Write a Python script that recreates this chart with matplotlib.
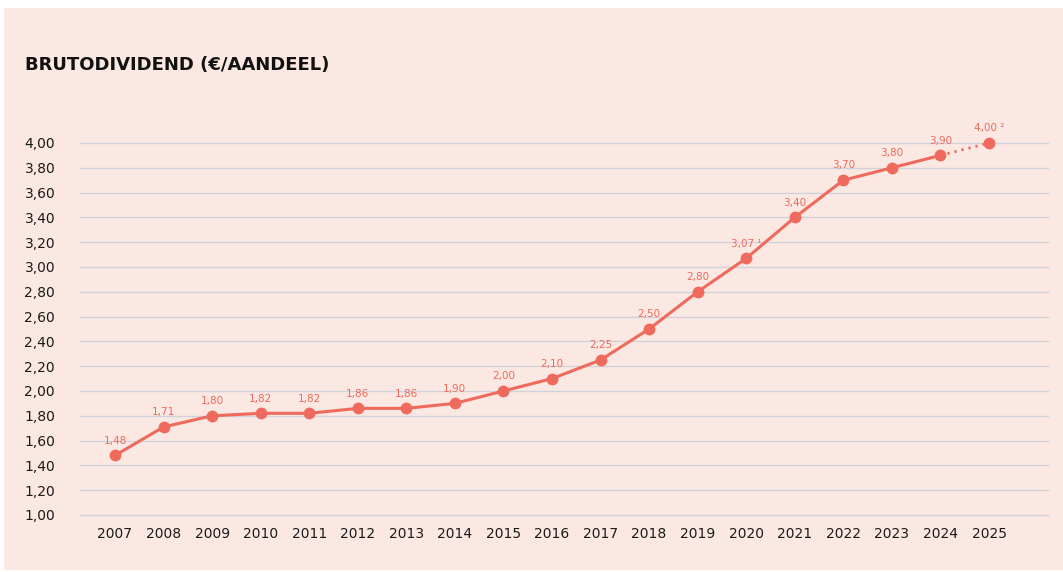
import matplotlib
matplotlib.use("Agg")
import matplotlib.pyplot as plt
from matplotlib.patches import Rectangle

years = list(range(2007, 2026))
dividend = [1.48, 1.71, 1.80, 1.82, 1.82, 1.86, 1.86, 1.90, 2.00, 2.10,
            2.25, 2.50, 2.80, 3.07, 3.40, 3.70, 3.80, 3.90, 4.00]
labels = ["1,48", "1,71", "1,80", "1,82", "1,82", "1,86", "1,86", "1,90", "2,00", "2,10",
          "2,25", "2,50", "2,80", "3,07 ¹", "3,40", "3,70", "3,80", "3,90", "4,00 ²"]
yticks = [1.0, 1.2, 1.4, 1.6, 1.8, 2.0, 2.2, 2.4, 2.6, 2.8, 3.0, 3.2, 3.4, 3.6, 3.8, 4.0]
title = "BRUTODIVIDEND (€/AANDEEL)"

bg = "#fce8e3"
red = "#ee6a5c"
grid_c = "#cfd2da"

W, H = 1063, 572
fig = plt.figure(figsize=(W / 100, H / 100), dpi=100)
fig.patch.set_facecolor("white")
fig.patches.append(Rectangle((4 / W, 2 / H), (W - 4) / W, (564 - 2) / H,
                             transform=fig.transFigure, facecolor=bg, edgecolor="none", zorder=-5))

ax = fig.add_axes([80 / W, (H - 515) / H, (1048 - 80) / W, (515 - 143) / H])
ax.set_zorder(2)
ax.set_facecolor("none")
ax.set_ylim(1.0, 4.0)
ax.set_xlim(2006.28, 2026.215)
ax.set_yticks(yticks)
ax.set_yticklabels([f"{v:.2f}".replace(".", ",") for v in yticks])
ax.set_xticks(years)
ax.set_xticklabels([str(y) for y in years])
ax.tick_params(axis="both", length=0, labelsize=10, colors="#1a1a1a")
ax.tick_params(axis="y", pad=40)
ax.tick_params(axis="x", pad=9)
for lab in ax.get_yticklabels():
    lab.set_horizontalalignment("left")
for s in ax.spines.values():
    s.set_visible(False)
ax.grid(axis="y", color=grid_c, linewidth=1)
for gl in ax.get_ygridlines():
    gl.set_clip_on(False)
ax.set_axisbelow(True)

ax.plot(years[:-1], dividend[:-1], color=red, linewidth=2.2, marker="o", markersize=7.5,
        solid_capstyle="round", clip_on=False, zorder=3)
ax.plot(years[-2:], dividend[-2:], color=red, linewidth=2.0, linestyle=(0, (0.8, 1.8)),
        clip_on=False, zorder=3)
ax.plot(years[-1:], dividend[-1:], color=red, marker="o", markersize=7.5, linestyle="none",
        clip_on=False, zorder=3)

for x, y, t in zip(years, dividend, labels):
    ax.annotate(t, (x, y), xytext=(0, 7), textcoords="offset points", ha="center",
                va="bottom", fontsize=7.5, color=red)

fig.text(25 / W, 1 - 65 / H, title, fontsize=13, fontweight="bold", ha="left", va="center",
         color="#111111", family="DejaVu Sans")

fig.savefig("out.png", dpi=100, facecolor=fig.get_facecolor())
